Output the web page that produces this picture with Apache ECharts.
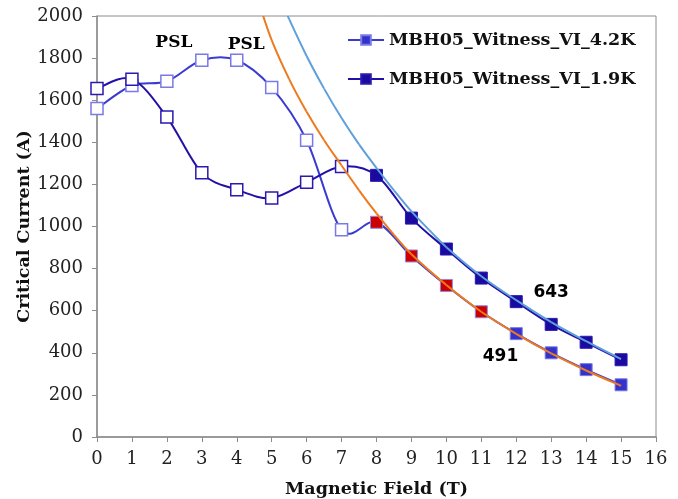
<!DOCTYPE html>
<html>
<head>
<meta charset="utf-8">
<script src="https://cdn.jsdelivr.net/npm/echarts@6/dist/echarts.min.js"></script>
<style>html,body{margin:0;padding:0;background:#fff}#c{width:678px;height:499px}</style>
</head>
<body>
<div id="c"></div>
<script>
// Data
const fieldT = [0, 1, 2, 3, 4, 5, 6, 7, 8, 9, 10, 11, 12, 13, 14, 15];
const ic42K = [1560, 1670, 1690, 1790, 1790, 1660, 1410, 985, 1020, 860, 720, 595, 491, 400, 320, 248];
const ic19K = [1655, 1700, 1520, 1255, 1175, 1135, 1210, 1285, 1243, 1040, 893, 755, 643, 535, 450, 367];
// fit curves
const fit42X = [4.6, 5, 5.5, 6, 6.5, 7, 7.5, 8, 8.5, 9, 10, 11, 12, 13, 14, 15];
const fit42Y = [2080, 1885, 1700, 1545, 1410, 1290, 1172, 1062, 960, 868, 722, 595, 490, 397, 316, 243];
const fit19X = [5.3, 5.5, 6, 6.5, 7, 7.5, 8, 8.5, 9, 9.5, 10, 11, 12, 13, 14, 15];
const fit19Y = [2060, 1985, 1810, 1655, 1515, 1390, 1278, 1172, 1072, 985, 902, 764, 650, 546, 455, 370];
// annotations
const noteText = ['PSL', 'PSL', '643', '491'];
const noteX = [2.2, 4.27, 13.0, 11.55];
const noteY = [1872, 1862, 684, 380];
const noteSerif = [true, true, false, false];
const lastOpenIdx = 7;
const redIdx42 = [8, 9, 10, 11];

const c42 = '#3b3bd0', c42m = '#3333cc', c42b = '#7a7ae6';
const c19 = '#2210a8', c19m = '#1a0aa0', c19b = '#2a1ab0';

function buildData(ys, mainColor, borderColor, redIdx) {
  return ys.map((v, i) => {
    const d = { value: [fieldT[i], v] };
    if (i <= lastOpenIdx) {
      d.itemStyle = { color: '#ffffff', borderColor: borderColor, borderWidth: 1.5 };
    } else if (redIdx.indexOf(i) >= 0) {
      d.itemStyle = { color: '#cc0000', borderColor: '#8a8ae8', borderWidth: 1 };
    } else {
      d.itemStyle = { color: mainColor, borderColor: borderColor, borderWidth: 1 };
    }
    return d;
  });
}

// Smooth curve (cardinal spline, as spreadsheet smoothed lines) drawn through the axis scales
function splineSeries(name, xs, ys, color, z) {
  const n = xs.length;
  return {
    name: name, type: 'custom', z: z, clip: true, silent: true,
    data: xs.map((x, i) => [x, ys[i]]),
    encode: { x: 0, y: 1 },
    renderItem: function (params, api) {
      const i = params.dataIndex;
      if (i >= n - 1) return { type: 'group', children: [] };
      const P = k => {
        const kk = Math.max(0, Math.min(n - 1, k));
        return api.coord([xs[kk], ys[kk]]);
      };
      const p0 = P(i - 1), p1 = P(i), p2 = P(i + 1), p3 = P(i + 2);
      const t = 1 / 6;
      return {
        type: 'bezierCurve',
        shape: {
          x1: p1[0], y1: p1[1], x2: p2[0], y2: p2[1],
          cpx1: p1[0] + (p2[0] - p0[0]) * t, cpy1: p1[1] + (p2[1] - p0[1]) * t,
          cpx2: p2[0] - (p3[0] - p1[0]) * t, cpy2: p2[1] - (p3[1] - p1[1]) * t
        },
        style: { stroke: color, fill: null, lineWidth: 2 }
      };
    }
  };
}

const chart = echarts.init(document.getElementById('c'), null, { renderer: 'canvas' });
const serif = 'DejaVu Serif';
chart.setOption({
  animation: false,
  backgroundColor: '#ffffff',
  grid: { left: 97, right: 22, top: 16, bottom: 62, containLabel: false, outerBoundsMode: 'none', show: true, borderColor: '#8c8c8c', borderWidth: 1, backgroundColor: 'transparent' },
  legend: {
    data: [
      { name: 'MBH05_Witness_VI_4.2K', lineStyle: { color: c42, width: 2, opacity: 1 } },
      { name: 'MBH05_Witness_VI_1.9K', lineStyle: { color: c19, width: 2, opacity: 1 } }
    ],
    orient: 'vertical', left: 347, top: 31, padding: 0, itemGap: 21, itemWidth: 36, itemHeight: 12,
    textStyle: { fontFamily: serif, fontWeight: 'bold', fontSize: 17.5, color: '#111' }
  },
  xAxis: {
    type: 'value', min: 0, max: 16, interval: 1,
    name: 'Magnetic Field (T)', nameLocation: 'middle', nameGap: 43, nameMoveOverlap: false,
    nameTextStyle: { fontFamily: serif, fontWeight: 'bold', fontSize: 17.5, color: '#111' },
    axisLine: { show: true, lineStyle: { color: '#8c8c8c', width: 1.5 } },
    axisTick: { show: true, length: 5, lineStyle: { color: '#8c8c8c' } },
    axisLabel: { fontFamily: serif, fontSize: 18, color: '#222', margin: 13 },
    splitLine: { show: false }
  },
  yAxis: {
    type: 'value', min: 0, max: 2000, interval: 200,
    name: 'Critical Current (A)', nameLocation: 'middle', nameGap: 64, nameMoveOverlap: false,
    nameTextStyle: { fontFamily: serif, fontWeight: 'bold', fontSize: 17.5, color: '#111' },
    axisLine: { show: true, lineStyle: { color: '#8c8c8c', width: 1.5 } },
    axisTick: { show: true, length: 5, lineStyle: { color: '#8c8c8c' } },
    axisLabel: { fontFamily: serif, fontSize: 18, color: '#222', margin: 14, formatter: v => String(v) },
    splitLine: { show: false }
  },
  series: [
    splineSeries('curve42', fieldT, ic42K, c42, 1),
    splineSeries('curve19', fieldT, ic19K, c19, 1),
    {
      name: 'MBH05_Witness_VI_4.2K', type: 'line',
      symbol: 'rect', symbolSize: 12,
      lineStyle: { color: c42, width: 2, opacity: 0 },
      itemStyle: { color: c42m, borderColor: c42b, borderWidth: 1 },
      data: buildData(ic42K, c42m, c42b, redIdx42), z: 2
    },
    {
      name: 'MBH05_Witness_VI_1.9K', type: 'line',
      symbol: 'rect', symbolSize: 12,
      lineStyle: { color: c19, width: 2, opacity: 0 },
      itemStyle: { color: c19m, borderColor: c19b, borderWidth: 1 },
      data: buildData(ic19K, c19m, c19b, []), z: 2
    },
    splineSeries('fit42', fit42X, fit42Y, '#ee7a1f', 3),
    splineSeries('fit19', fit19X, fit19Y, '#5fa0dc', 3),
    {
      name: 'notes', type: 'scatter', symbolSize: 1,
      itemStyle: { color: 'rgba(0,0,0,0)', opacity: 1 },
      silent: true, z: 5,
      data: noteText.map((t, i) => ({
        value: [noteX[i], noteY[i]], name: t,
        label: {
          show: true, position: 'inside', formatter: t, opacity: 1,
          fontFamily: noteSerif[i] ? serif : 'DejaVu Sans', fontWeight: 'bold',
          fontSize: 17, color: '#000', textBorderWidth: 0
        }
      }))
    }
  ]
});
</script>
</body>
</html>
